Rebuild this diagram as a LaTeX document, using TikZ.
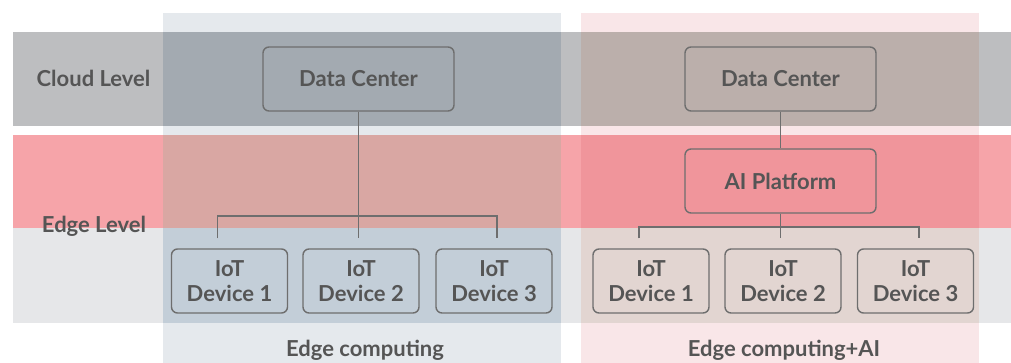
\documentclass[tikz,border=0pt]{standalone}
\usepackage{fontspec}
\setmainfont{Lato}
\usepackage{tikz}
\usetikzlibrary{positioning}
\definecolor{cloudGray}{HTML}{BDBEC0}
\definecolor{edgeRed}{HTML}{F6A4A9}
\definecolor{devGray}{HTML}{E6E7E9}
\definecolor{panelBlue}{HTML}{E5E9ED}
\definecolor{panelPink}{HTML}{F9E6E8}
\definecolor{blueCloud}{HTML}{A3AAB1}
\definecolor{blueEdge}{HTML}{D9A7A3}
\definecolor{blueDev}{HTML}{C3CED8}
\definecolor{pinkCloud}{HTML}{BBAFAB}
\definecolor{pinkEdge}{HTML}{F0959B}
\definecolor{pinkDev}{HTML}{E2D5D1}
\definecolor{lineGray}{HTML}{6E6E6E}
\definecolor{textGray}{HTML}{555555}

\begin{document}
\begin{tikzpicture}[
  x=1pt, y=-1pt,
  every node/.style = {align=center, text=textGray,
                       font=\fontsize{22}{25}\selectfont\bfseries},
  box/.style  = {rectangle, rounded corners=6pt, draw=lineGray,
                 line width=1.4pt, minimum width=191pt, minimum height=64pt},
  dev/.style  = {box, minimum width=116pt},
  link/.style = {draw=lineGray, line width=1.4pt},
]
\useasboundingbox (0,0) rectangle (1011,363);

% ── Bandas de nivel ─────────────────────────────────────────
\foreach \top/\bot/\col in {32/126/cloudGray, 135/228/edgeRed, 228/323/devGray}
  \fill[\col] (13,\top) rectangle (1011,\bot);

% ── Paneles ─────────────────────────────────────────────────
\fill[panelBlue] (163,13) rectangle (561,363);
\fill[panelPink] (581,13) rectangle (979,363);
\foreach \top/\bot/\colA/\colB in {32/126/blueCloud/pinkCloud,
                                   135/228/blueEdge/pinkEdge,
                                   228/323/blueDev/pinkDev}{
  \fill[\colA] (163,\top) rectangle (561,\bot);
  \fill[\colB] (581,\top) rectangle (979,\bot);
}

% ── Etiquetas ───────────────────────────────────────────────
\node[anchor=base] (cloudLbl) at (93.5,87)  {Cloud Level};
\node[anchor=base] (edgeLbl)  at (94,233)   {Edge Level};
\node[anchor=base] (capA)     at (365,356)  {Edge computing};
\node[anchor=base] (capB)     at (784,356)  {Edge computing+AI};

% ── Edge computing ──────────────────────────────────────────
\node[box] (dcA)   at (358.5,79)  {Data Center};
\node[dev] (devA1) at (229.5,281) {IoT\\Device 1};
\node[dev] (devA2) at (361,281)   {IoT\\Device 2};
\node[dev] (devA3) at (494,281)   {IoT\\Device 3};
\coordinate (busA) at (359,216);

\draw[link, shorten >=10pt] (dcA.south) -- (dcA.south |- devA2.north);
\draw[link, shorten <=10pt, shorten >=10pt]
  ([xshift=-12pt]devA1.north) |- (busA) -| ([xshift=3pt]devA3.north);

% ── Edge computing + AI ─────────────────────────────────────
\node[box] (dcB)   at (780.5,79)  {Data Center};
\node[box] (aiB)   at (780.5,181) {AI Platform};
\node[dev] (devB1) at (651,281)   {IoT\\Device 1};
\node[dev] (devB2) at (783,281)   {IoT\\Device 2};
\node[dev] (devB3) at (915.5,281) {IoT\\Device 3};
\coordinate (busB) at (781,227);

\draw[link] (dcB) -- (aiB);
\draw[link, shorten >=10pt] (aiB.south) -- (aiB.south |- devB2.north);
\draw[link, shorten <=10pt, shorten >=10pt]
  ([xshift=-12pt]devB1.north) |- (busB) -| ([xshift=3.5pt]devB3.north);

\end{tikzpicture}
\end{document}
